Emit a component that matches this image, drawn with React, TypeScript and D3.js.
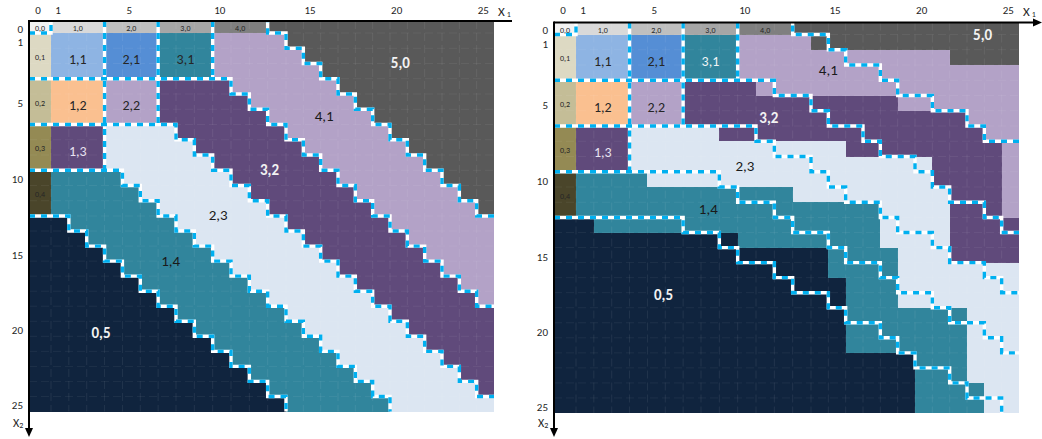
import React from 'react';
import * as d3 from 'd3';

type Run = [number, string];

// ---------- data ----------
const X1_TICKS = [0, 1, 5, 10, 15, 20, 25];
const X2_TICKS = [0, 1, 5, 10, 15, 20, 25];

const REGION_COLORS: Record<string, string> = {
  '0,0': '#f2f2f2', '1,0': '#d9d9d9', '2,0': '#bfbfbf', '3,0': '#a6a6a6', '4,0': '#7f7f7f', '5,0': '#595959',
  '0,1': '#ddd9c3', '1,1': '#8eb4e3', '2,1': '#558ed5', '3,1': '#31859c', '4,1': '#b3a2c7',
  '0,2': '#c4bd97', '1,2': '#fac090', '2,2': '#b3a2c7', '3,2': '#604a7b',
  '0,3': '#948a54', '1,3': '#604a7b', '2,3': '#dce6f2',
  '0,4': '#4a452a', '1,4': '#31859c',
  '0,5': '#10243e',
};

// each row: list of [first x1 cell, region]
const LEFT_MAP: Run[][] = [
  [[0, '0,0'], [1, '1,0'], [4, '2,0'], [7, '3,0'], [10, '4,0'], [13, '5,0']],
  [[0, '0,1'], [1, '1,1'], [4, '2,1'], [7, '3,1'], [10, '4,1'], [14, '5,0']],
  [[0, '0,1'], [1, '1,1'], [4, '2,1'], [7, '3,1'], [10, '4,1'], [15, '5,0']],
  [[0, '0,1'], [1, '1,1'], [4, '2,1'], [7, '3,1'], [10, '4,1'], [16, '5,0']],
  [[0, '0,2'], [1, '1,2'], [4, '2,2'], [7, '3,2'], [11, '4,1'], [17, '5,0']],
  [[0, '0,2'], [1, '1,2'], [4, '2,2'], [7, '3,2'], [12, '4,1'], [18, '5,0']],
  [[0, '0,2'], [1, '1,2'], [4, '2,2'], [7, '3,2'], [13, '4,1'], [19, '5,0']],
  [[0, '0,3'], [1, '1,3'], [4, '2,3'], [8, '3,2'], [14, '4,1'], [20, '5,0']],
  [[0, '0,3'], [1, '1,3'], [4, '2,3'], [9, '3,2'], [15, '4,1'], [21, '5,0']],
  [[0, '0,3'], [1, '1,3'], [4, '2,3'], [10, '3,2'], [16, '4,1'], [22, '5,0']],
  [[0, '0,4'], [1, '1,4'], [5, '2,3'], [11, '3,2'], [17, '4,1'], [23, '5,0']],
  [[0, '0,4'], [1, '1,4'], [6, '2,3'], [12, '3,2'], [18, '4,1'], [24, '5,0']],
  [[0, '0,4'], [1, '1,4'], [7, '2,3'], [13, '3,2'], [19, '4,1'], [25, '5,0']],
  [[0, '0,5'], [2, '1,4'], [8, '2,3'], [14, '3,2'], [20, '4,1']],
  [[0, '0,5'], [3, '1,4'], [9, '2,3'], [15, '3,2'], [21, '4,1']],
  [[0, '0,5'], [4, '1,4'], [10, '2,3'], [16, '3,2'], [22, '4,1']],
  [[0, '0,5'], [5, '1,4'], [11, '2,3'], [17, '3,2'], [23, '4,1']],
  [[0, '0,5'], [6, '1,4'], [12, '2,3'], [18, '3,2'], [24, '4,1']],
  [[0, '0,5'], [7, '1,4'], [13, '2,3'], [19, '3,2'], [25, '4,1']],
  [[0, '0,5'], [8, '1,4'], [14, '2,3'], [20, '3,2']],
  [[0, '0,5'], [9, '1,4'], [15, '2,3'], [21, '3,2']],
  [[0, '0,5'], [10, '1,4'], [16, '2,3'], [22, '3,2']],
  [[0, '0,5'], [11, '1,4'], [17, '2,3'], [23, '3,2']],
  [[0, '0,5'], [12, '1,4'], [18, '2,3'], [24, '3,2']],
  [[0, '0,5'], [13, '1,4'], [19, '2,3'], [25, '3,2']],
  [[0, '0,5'], [14, '1,4'], [20, '2,3']],
];

const RIGHT_FILL: Run[][] = [
  [[0, '0,0'], [1, '1,0'], [4, '2,0'], [7, '3,0'], [10, '4,0'], [13, '5,0']],
  [[0, '0,1'], [1, '1,1'], [4, '2,1'], [7, '3,1'], [10, '4,1'], [14, '5,0']],
  [[0, '0,1'], [1, '1,1'], [4, '2,1'], [7, '3,1'], [10, '4,1'], [22, '5,0']],
  [[0, '0,1'], [1, '1,1'], [4, '2,1'], [7, '3,1'], [10, '4,1']],
  [[0, '0,2'], [1, '1,2'], [4, '2,2'], [7, '3,2'], [11, '4,1']],
  [[0, '0,2'], [1, '1,2'], [4, '2,2'], [7, '3,2'], [19, '4,1']],
  [[0, '0,2'], [1, '1,2'], [4, '2,2'], [7, '3,2'], [23, '4,1']],
  [[0, '0,3'], [1, '1,3'], [4, '2,3'], [9, '3,2'], [24, '4,1']],
  [[0, '0,3'], [1, '1,3'], [4, '2,3'], [16, '3,2'], [25, '4,1']],
  [[0, '0,3'], [1, '1,3'], [4, '2,3'], [21, '3,2'], [25, '4,1']],
  [[0, '0,4'], [1, '1,4'], [5, '2,3'], [21, '3,2'], [25, '4,1']],
  [[0, '0,4'], [1, '1,4'], [13, '2,3'], [22, '3,2'], [25, '4,1']],
  [[0, '0,4'], [1, '1,4'], [18, '2,3'], [22, '3,2'], [25, '4,1']],
  [[0, '0,5'], [2, '1,4'], [18, '2,3'], [22, '3,2']],
  [[0, '0,5'], [10, '1,4'], [18, '2,3'], [22, '3,2']],
  [[0, '0,5'], [15, '1,4'], [19, '2,3'], [22, '3,2']],
  [[0, '0,5'], [15, '1,4'], [19, '2,3']],
  [[0, '0,5'], [16, '1,4'], [19, '2,3']],
  [[0, '0,5'], [16, '1,4'], [19, '2,3']],
  [[0, '0,5'], [16, '1,4'], [23, '2,3']],
  [[0, '0,5'], [16, '1,4'], [23, '2,3']],
  [[0, '0,5'], [16, '1,4'], [23, '2,3']],
  [[0, '0,5'], [20, '1,4'], [23, '2,3']],
  [[0, '0,5'], [20, '1,4'], [23, '2,3']],
  [[0, '0,5'], [20, '1,4'], [24, '2,3']],
  [[0, '0,5'], [20, '1,4'], [24, '2,3']],
];

const RIGHT_LINES: Run[][] = [
  [[0, '0,0'], [1, '1,0'], [4, '2,0'], [7, '3,0'], [10, '4,0'], [13, '5,0']],
  [[0, '0,1'], [1, '1,1'], [4, '2,1'], [7, '3,1'], [10, '4,1'], [15, '5,0']],
  [[0, '0,1'], [1, '1,1'], [4, '2,1'], [7, '3,1'], [10, '4,1'], [16, '5,0']],
  [[0, '0,1'], [1, '1,1'], [4, '2,1'], [7, '3,1'], [10, '4,1'], [18, '5,0']],
  [[0, '0,2'], [1, '1,2'], [4, '2,2'], [7, '3,2'], [12, '4,1'], [19, '5,0']],
  [[0, '0,2'], [1, '1,2'], [4, '2,2'], [7, '3,2'], [14, '4,1'], [21, '5,0']],
  [[0, '0,2'], [1, '1,2'], [4, '2,2'], [7, '3,2'], [15, '4,1'], [23, '5,0']],
  [[0, '0,3'], [1, '1,3'], [4, '2,3'], [11, '3,2'], [17, '4,1'], [24, '5,0']],
  [[0, '0,3'], [1, '1,3'], [4, '2,3'], [12, '3,2'], [18, '4,1']],
  [[0, '0,3'], [1, '1,3'], [4, '2,3'], [14, '3,2'], [20, '4,1']],
  [[0, '0,4'], [1, '1,4'], [9, '2,3'], [15, '3,2'], [21, '4,1']],
  [[0, '0,4'], [1, '1,4'], [10, '2,3'], [16, '3,2'], [22, '4,1']],
  [[0, '0,4'], [1, '1,4'], [12, '2,3'], [18, '3,2'], [24, '4,1']],
  [[0, '0,5'], [7, '1,4'], [13, '2,3'], [19, '3,2'], [25, '4,1']],
  [[0, '0,5'], [9, '1,4'], [15, '2,3'], [21, '3,2']],
  [[0, '0,5'], [10, '1,4'], [16, '2,3'], [22, '3,2']],
  [[0, '0,5'], [12, '1,4'], [18, '2,3'], [24, '3,2']],
  [[0, '0,5'], [13, '1,4'], [19, '2,3'], [25, '3,2']],
  [[0, '0,5'], [15, '1,4'], [21, '2,3']],
  [[0, '0,5'], [16, '1,4'], [22, '2,3']],
  [[0, '0,5'], [18, '1,4'], [24, '2,3']],
  [[0, '0,5'], [19, '1,4'], [25, '2,3']],
  [[0, '0,5'], [20, '1,4']],
  [[0, '0,5'], [22, '1,4']],
  [[0, '0,5'], [23, '1,4']],
  [[0, '0,5'], [25, '1,4']],
];

const SMALL_BLOCK_LABELS = ['0,0', '1,0', '2,0', '3,0', '4,0', '0,1', '0,2', '0,3', '0,4'];
const BIG_BLOCK_LABELS = ['1,1', '2,1', '3,1', '1,2', '2,2', '1,3'];

// [label, x1 cell coordinate, x2 cell coordinate]
const LEFT_BAND_LABELS: [string, number, number][] = [
  ['5,0', 20.6, 2.97], ['4,1', 16.2, 6.44], ['3,2', 13.1, 9.98],
  ['2,3', 10.3, 12.93], ['1,4', 7.7, 16.0], ['0,5', 3.8, 20.8],
];
const RIGHT_BAND_LABELS: [string, number, number][] = [
  ['5,0', 23.9, 1.03], ['4,1', 15.0, 3.33], ['3,2', 11.7, 6.48],
  ['2,3', 10.4, 9.62], ['1,4', 8.4, 12.44], ['0,5', 5.9, 18.15],
];

// ---------- helpers ----------
const N = 26;
const FONT = "Carlito, Calibri, Lato, 'Liberation Sans', sans-serif";

function expand(rows: Run[][]): string[][] {
  return rows.map((runs) => {
    const out: string[] = [];
    for (let c = 0; c < N; c++) {
      let lab = runs[0][1];
      for (const [s, l] of runs) if (c >= s) lab = l;
      out.push(lab);
    }
    return out;
  });
}

function dashed(a: string, b: string, firstEdge: boolean, part: 0 | 1): boolean {
  if (a === b) return false;
  if (firstEdge) {
    const pa = a.split(',');
    const pb = b.split(',');
    if (pa[part] === pb[part]) return false;
  }
  return true;
}

type Pt = [number, number];
type Seg = { a: Pt; b: Pt; used: boolean };

function boundarySegments(m: string[][]): Seg[] {
  const segs: Seg[] = [];
  for (let r = 1; r < N; r++) {
    let start = -1;
    for (let c = 0; c <= N; c++) {
      const on = c < N && dashed(m[r - 1][c], m[r][c], r === 1 && c >= 1, 0);
      if (on && start < 0) start = c;
      if (!on && start >= 0) {
        segs.push({ a: [start, r], b: [c, r], used: false });
        start = -1;
      }
    }
  }
  for (let c = 1; c < N; c++) {
    let start = -1;
    for (let r = 0; r <= N; r++) {
      const on = r < N && dashed(m[r][c - 1], m[r][c], c === 1 && r >= 1, 1);
      if (on && start < 0) start = r;
      if (!on && start >= 0) {
        segs.push({ a: [c, start], b: [c, r], used: false });
        start = -1;
      }
    }
  }
  return segs;
}

// join segments into continuous polylines so the dash pattern runs on
function chain(segs: Seg[]): Pt[][] {
  const key = (p: Pt) => `${p[0]},${p[1]}`;
  const adj = new Map<string, number[]>();
  segs.forEach((s, i) => {
    for (const p of [s.a, s.b]) {
      const k = key(p);
      if (!adj.has(k)) adj.set(k, []);
      adj.get(k)!.push(i);
    }
  });
  const walk = (start: Pt, first: number): Pt[] => {
    const pts: Pt[] = [start];
    let cur = start;
    let idx: number | undefined = first;
    while (idx !== undefined) {
      const s = segs[idx];
      s.used = true;
      const next = s.a[0] === cur[0] && s.a[1] === cur[1] ? s.b : s.a;
      pts.push(next);
      cur = next;
      const list = adj.get(key(cur))!;
      const free = list.filter((j) => !segs[j].used);
      idx = list.length === 2 && free.length === 1 ? free[0] : undefined;
    }
    return pts;
  };
  const paths: Pt[][] = [];
  adj.forEach((list, k) => {
    if (list.length !== 2) {
      const p = k.split(',').map(Number) as Pt;
      for (const i of list) if (!segs[i].used) paths.push(walk(p, i));
    }
  });
  segs.forEach((s, i) => {
    if (!s.used) paths.push(walk(s.a, i));
  });
  return paths;
}

function blockSpan(b: number): [number, number] {
  return b === 0 ? [0, 1] : [3 * b - 2, 3 * b + 1];
}

type PanelProps = {
  dx: number;
  dy: number;
  fill: Run[][];
  lines: Run[][];
  bandLabels: [string, number, number][];
  light31: boolean;
  arrowX: boolean;
};

function Panel({ dx, dy, fill, lines, bandLabels, light31, arrowX }: PanelProps) {
  const xs = d3.scaleLinear().domain([0, 1, 8, 14, 26]).range([29, 51, 176, 286, 494]);
  const ys = d3.scaleLinear().domain([0, 1, 13, 26]).range([21, 33, 216, 411.5]);
  const paths = chain(boundarySegments(expand(lines)));
  const lineGen = d3.line<Pt>().x((p) => xs(p[0])).y((p) => ys(p[1]));

  const rects: JSX.Element[] = [];
  fill.forEach((runs, r) => {
    runs.forEach(([s, lab], i) => {
      const e = i + 1 < runs.length ? runs[i + 1][0] : N;
      rects.push(
        <rect key={`${r}-${i}`} x={xs(s)} y={ys(r)} width={xs(e) - xs(s)} height={ys(r + 1) - ys(r)}
          fill={REGION_COLORS[lab]} shapeRendering="crispEdges" />
      );
    });
  });

  const grid: JSX.Element[] = [];
  for (let k = 1; k < N; k++) {
    grid.push(<line key={`gx${k}`} x1={xs(k)} x2={xs(k)} y1={ys(0)} y2={ys(N)} stroke="#ffffff" strokeOpacity={0.08} strokeDasharray="8 4" strokeWidth={1} />);
    grid.push(<line key={`gy${k}`} x1={xs(0)} x2={xs(N)} y1={ys(k)} y2={ys(k)} stroke="#ffffff" strokeOpacity={0.06} strokeDasharray="8 4" strokeWidth={1} />);
  }

  const blockLabel = (lab: string, big: boolean) => {
    const [i, j] = lab.split(',').map(Number);
    const [c0, c1] = blockSpan(i);
    const [r0, r1] = blockSpan(j);
    const cx = (xs(c0) + xs(c1)) / 2;
    const cy = (ys(r0) + ys(r1)) / 2 + (big ? 4 : 1);
    let color = '#262626';
    if (lab === '1,3') color = '#e8e2f0';
    if (lab === '3,1' && light31) color = '#eef4f6';
    return (
      <text key={`bl${lab}`} x={cx} y={cy} textAnchor="middle" dominantBaseline="central"
        fontSize={big ? 14 : 8} fill={color} fontFamily={FONT}>{lab}</text>
    );
  };

  const x0 = xs(0);
  const y0 = ys(0);
  const xEnd = arrowX ? 1042 - dx : 512;

  return (
    <g transform={`translate(${dx},${dy})`}>
      {rects}
      {grid}
      {paths.map((p, i) => (
        <path key={`w${i}`} d={lineGen(p) || ''} fill="none" stroke="#ffffff" strokeWidth={3.4} strokeLinejoin="miter" />
      ))}
      {paths.map((p, i) => (
        <path key={`b${i}`} d={lineGen(p) || ''} fill="none" stroke="#00b0f0" strokeWidth={3.4} strokeDasharray="6 6" strokeLinejoin="miter" />
      ))}
      {SMALL_BLOCK_LABELS.map((l) => blockLabel(l, false))}
      {BIG_BLOCK_LABELS.map((l) => blockLabel(l, true))}
      {bandLabels.map(([lab, c, r]) => {
        const white = lab === '5,0' || lab === '3,2' || lab === '0,5';
        return (
          <text key={`band${lab}`} x={xs(c)} y={ys(r)} textAnchor="middle" dominantBaseline="central"
            fontSize={15} fontWeight={white ? 'bold' : 'normal'} fill={white ? '#f2f2f2' : '#1a1a1a'} fontFamily={FONT}>{lab}</text>
        );
      })}
      {/* axes */}
      <line x1={x0} x2={arrowX ? xEnd - 7 : xEnd} y1={y0} y2={y0} stroke="#000" strokeWidth={2} />
      {arrowX && <path d={`M${xEnd},${y0} L${xEnd - 9},${y0 - 4} L${xEnd - 9},${y0 + 4} Z`} fill="#000" />}
      <line x1={x0} x2={x0} y1={y0 - 1} y2={430} stroke="#000" strokeWidth={2} />
      <path d={`M${x0},${437 - dy} L${x0 - 4},${428 - dy} L${x0 + 4},${428 - dy} Z`} fill="#000" />
      {X1_TICKS.map((t) => (
        <text key={`xt${t}`} x={(xs(t) + xs(t + 1)) / 2 - 2} y={10 - dy} textAnchor="middle" dominantBaseline="central"
          fontSize={11} fill="#262626" fontFamily={FONT}>{t}</text>
      ))}
      {X2_TICKS.map((t) => (
        <text key={`yt${t}`} x={x0 - 6} y={(ys(t) + ys(t + 1)) / 2 + 2} textAnchor="end" dominantBaseline="central"
          fontSize={11} fill="#262626" fontFamily={FONT}>{t}</text>
      ))}
      <text x={arrowX ? 1023 - dx : 498} y={11 - dy} dominantBaseline="central" fontSize={13} fill="#262626" fontFamily={FONT}>
        X<tspan fontSize={8} dx={2} dy={3}>1</tspan>
      </text>
      <text x={13} y={423 - dy} dominantBaseline="central" fontSize={12} fill="#262626" fontFamily={FONT}>
        X<tspan fontSize={8} dy={2}>2</tspan>
      </text>
    </g>
  );
}

export default function App() {
  return (
    <div style={{ position: 'absolute', left: 0, top: 0 }}>
      <svg width={1042} height={439} viewBox="0 0 1042 439" style={{ display: 'block', background: '#ffffff' }}>
        <Panel dx={0} dy={0} fill={LEFT_MAP} lines={LEFT_MAP} bandLabels={LEFT_BAND_LABELS} light31={false} arrowX={false} />
        <Panel dx={525} dy={1.5} fill={RIGHT_FILL} lines={RIGHT_LINES} bandLabels={RIGHT_BAND_LABELS} light31={true} arrowX={true} />
      </svg>
    </div>
  );
}
